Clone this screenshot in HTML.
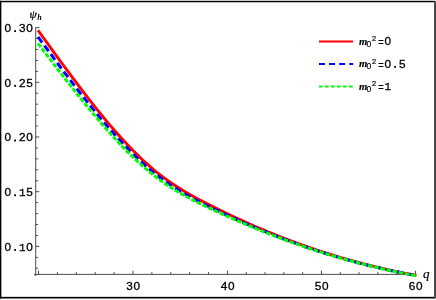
<!DOCTYPE html>
<html><head><meta charset="utf-8">
<style>
html,body{margin:0;padding:0;background:#fff;}
body{width:436px;height:300px;overflow:hidden;}
svg{display:block;will-change:transform;}
.mono{font-family:"Liberation Sans",sans-serif;font-size:11.8px;fill:#000;stroke:#000;stroke-width:0.3px;}
.mono1{font-family:"Liberation Mono",monospace;font-size:10.9px;fill:#000;stroke:#000;stroke-width:0.3px;}
.ser{font-family:"Liberation Serif",serif;font-style:italic;fill:#000;}
</style></head><body>
<svg width="436" height="300" viewBox="0 0 436 300">
<rect x="0" y="0" width="436" height="300" fill="#fff"/>
<!-- frame -->
<rect x="0" y="0.8" width="1.35" height="297.7" fill="#000"/>
<rect x="0" y="0.8" width="435.2" height="1.45" fill="#000"/>
<rect x="0" y="296.85" width="435.4" height="1.65" fill="#000"/>
<rect x="434.05" y="1.2" width="1.95" height="297" fill="#484848"/>
<!-- axes -->
<g stroke="#4c4c4c" stroke-width="1" fill="none">
<line x1="35.7" y1="27.2" x2="35.7" y2="276"/>
<line x1="34" y1="274.4" x2="415.6" y2="274.4"/>
<line x1="38.50" y1="274.4" x2="38.50" y2="270.70"/>
<line x1="57.40" y1="274.4" x2="57.40" y2="272.10"/>
<line x1="76.30" y1="274.4" x2="76.30" y2="272.10"/>
<line x1="95.20" y1="274.4" x2="95.20" y2="272.10"/>
<line x1="114.10" y1="274.4" x2="114.10" y2="272.10"/>
<line x1="133.00" y1="274.4" x2="133.00" y2="270.70"/>
<line x1="151.89" y1="274.4" x2="151.89" y2="272.10"/>
<line x1="170.78" y1="274.4" x2="170.78" y2="272.10"/>
<line x1="189.67" y1="274.4" x2="189.67" y2="272.10"/>
<line x1="208.56" y1="274.4" x2="208.56" y2="272.10"/>
<line x1="227.45" y1="274.4" x2="227.45" y2="270.70"/>
<line x1="246.25" y1="274.4" x2="246.25" y2="272.10"/>
<line x1="265.05" y1="274.4" x2="265.05" y2="272.10"/>
<line x1="283.85" y1="274.4" x2="283.85" y2="272.10"/>
<line x1="302.65" y1="274.4" x2="302.65" y2="272.10"/>
<line x1="321.45" y1="274.4" x2="321.45" y2="270.70"/>
<line x1="340.25" y1="274.4" x2="340.25" y2="272.10"/>
<line x1="359.05" y1="274.4" x2="359.05" y2="272.10"/>
<line x1="377.85" y1="274.4" x2="377.85" y2="272.10"/>
<line x1="396.65" y1="274.4" x2="396.65" y2="272.10"/>
<line x1="415.45" y1="274.4" x2="415.45" y2="270.70"/>
<line x1="35.7" y1="27.60" x2="39.30" y2="27.60"/>
<line x1="35.7" y1="38.54" x2="38.10" y2="38.54"/>
<line x1="35.7" y1="49.48" x2="38.10" y2="49.48"/>
<line x1="35.7" y1="60.42" x2="38.10" y2="60.42"/>
<line x1="35.7" y1="71.36" x2="38.10" y2="71.36"/>
<line x1="35.7" y1="82.30" x2="39.30" y2="82.30"/>
<line x1="35.7" y1="93.24" x2="38.10" y2="93.24"/>
<line x1="35.7" y1="104.18" x2="38.10" y2="104.18"/>
<line x1="35.7" y1="115.12" x2="38.10" y2="115.12"/>
<line x1="35.7" y1="126.06" x2="38.10" y2="126.06"/>
<line x1="35.7" y1="137.00" x2="39.30" y2="137.00"/>
<line x1="35.7" y1="147.94" x2="38.10" y2="147.94"/>
<line x1="35.7" y1="158.88" x2="38.10" y2="158.88"/>
<line x1="35.7" y1="169.82" x2="38.10" y2="169.82"/>
<line x1="35.7" y1="180.76" x2="38.10" y2="180.76"/>
<line x1="35.7" y1="191.70" x2="39.30" y2="191.70"/>
<line x1="35.7" y1="202.64" x2="38.10" y2="202.64"/>
<line x1="35.7" y1="213.58" x2="38.10" y2="213.58"/>
<line x1="35.7" y1="224.52" x2="38.10" y2="224.52"/>
<line x1="35.7" y1="235.46" x2="38.10" y2="235.46"/>
<line x1="35.7" y1="246.40" x2="39.30" y2="246.40"/>
<line x1="35.7" y1="257.34" x2="38.10" y2="257.34"/>
<line x1="35.7" y1="268.28" x2="38.10" y2="268.28"/>
</g>
<!-- curves -->
<g fill="none" stroke-linecap="butt" stroke-linejoin="round">
<path d="M38.0,30.26 L42.0,35.80 L46.0,41.33 L50.0,46.85 L53.9,52.35 L57.9,57.83 L61.9,63.27 L65.9,68.69 L69.9,74.07 L73.9,79.41 L77.8,84.70 L81.8,89.95 L85.8,95.13 L89.8,100.26 L93.8,105.32 L97.8,110.31 L101.7,115.23 L105.7,120.06 L109.7,124.81 L113.7,129.46 L117.7,134.02 L121.7,138.47 L125.7,142.80 L129.6,147.02 L133.6,151.12 L137.6,155.08 L141.6,158.91 L145.6,162.60 L149.6,166.14 L153.5,169.54 L157.5,172.80 L161.5,175.91 L165.5,178.89 L169.5,181.73 L173.5,184.45 L177.4,187.05 L181.4,189.54 L185.4,191.94 L189.4,194.25 L193.4,196.49 L197.4,198.66 L201.4,200.79 L205.3,202.86 L209.3,204.89 L213.3,206.89 L217.3,208.86 L221.3,210.80 L225.3,212.72 L229.2,214.61 L233.2,216.49 L237.2,218.33 L241.2,220.16 L245.2,221.95 L249.2,223.73 L253.1,225.48 L257.1,227.21 L261.1,228.91 L265.1,230.58 L269.1,232.23 L273.1,233.86 L277.1,235.45 L281.0,237.03 L285.0,238.58 L289.0,240.10 L293.0,241.59 L297.0,243.06 L301.0,244.50 L304.9,245.92 L308.9,247.31 L312.9,248.68 L316.9,250.02 L320.9,251.33 L324.9,252.61 L328.8,253.88 L332.8,255.11 L336.8,256.32 L340.8,257.50 L344.8,258.66 L348.8,259.80 L352.8,260.90 L356.7,261.99 L360.7,263.05 L364.7,264.08 L368.7,265.09 L372.7,266.08 L376.7,267.04 L380.6,267.98 L384.6,268.90 L388.6,269.80 L392.6,270.67 L396.6,271.52 L400.6,272.35 L404.5,273.16 L408.5,273.95 L412.5,274.72 L416.5,275.47" stroke="#ff0000" stroke-width="2.85"/>
<path d="M38.0,36.86 L42.0,42.27 L46.0,47.67 L50.0,53.05 L53.9,58.42 L57.9,63.76 L61.9,69.07 L65.9,74.36 L69.9,79.60 L73.9,84.81 L77.8,89.98 L81.8,95.09 L85.8,100.15 L89.8,105.15 L93.8,110.08 L97.8,114.95 L101.7,119.74 L105.7,124.45 L109.7,129.07 L113.7,133.61 L117.7,138.04 L121.7,142.37 L125.7,146.59 L129.6,150.70 L133.6,154.68 L137.6,158.53 L141.6,162.25 L145.6,165.84 L149.6,169.28 L153.5,172.57 L157.5,175.73 L161.5,178.75 L165.5,181.63 L169.5,184.38 L173.5,187.01 L177.4,189.52 L181.4,191.93 L185.4,194.25 L189.4,196.48 L193.4,198.64 L197.4,200.74 L201.4,202.79 L205.3,204.80 L209.3,206.76 L213.3,208.70 L217.3,210.60 L221.3,212.48 L225.3,214.34 L229.2,216.18 L233.2,217.99 L237.2,219.78 L241.2,221.55 L245.2,223.30 L249.2,225.03 L253.1,226.73 L257.1,228.41 L261.1,230.07 L265.1,231.70 L269.1,233.31 L273.1,234.89 L277.1,236.46 L281.0,237.99 L285.0,239.50 L289.0,240.99 L293.0,242.45 L297.0,243.89 L301.0,245.30 L304.9,246.69 L308.9,248.05 L312.9,249.39 L316.9,250.70 L320.9,251.98 L324.9,253.24 L328.8,254.48 L332.8,255.69 L336.8,256.88 L340.8,258.04 L344.8,259.17 L348.8,260.29 L352.8,261.37 L356.7,262.44 L360.7,263.48 L364.7,264.49 L368.7,265.48 L372.7,266.45 L376.7,267.39 L380.6,268.31 L384.6,269.21 L388.6,270.09 L392.6,270.94 L396.6,271.78 L400.6,272.59 L404.5,273.38 L408.5,274.15 L412.5,274.90 L416.5,275.63" stroke="#0000ff" stroke-width="3" stroke-dasharray="7 3.8"/>
<path d="M38.0,43.49 L42.0,48.71 L46.0,53.92 L50.0,59.12 L53.9,64.31 L57.9,69.48 L61.9,74.63 L65.9,79.74 L69.9,84.83 L73.9,89.88 L77.8,94.89 L81.8,99.85 L85.8,104.76 L89.8,109.62 L93.8,114.41 L97.8,119.14 L101.7,123.80 L105.7,128.38 L109.7,132.87 L113.7,137.28 L117.7,141.59 L121.7,145.80 L125.7,149.91 L129.6,153.90 L133.6,157.77 L137.6,161.52 L141.6,165.13 L145.6,168.60 L149.6,171.94 L153.5,175.14 L157.5,178.20 L161.5,181.12 L165.5,183.91 L169.5,186.57 L173.5,189.10 L177.4,191.53 L181.4,193.85 L185.4,196.08 L189.4,198.23 L193.4,200.31 L197.4,202.34 L201.4,204.31 L205.3,206.24 L209.3,208.13 L213.3,210.00 L217.3,211.84 L221.3,213.65 L225.3,215.45 L229.2,217.22 L233.2,218.98 L237.2,220.71 L241.2,222.43 L245.2,224.13 L249.2,225.80 L253.1,227.46 L257.1,229.09 L261.1,230.70 L265.1,232.29 L269.1,233.86 L273.1,235.41 L277.1,236.93 L281.0,238.43 L285.0,239.91 L289.0,241.37 L293.0,242.80 L297.0,244.21 L301.0,245.59 L304.9,246.96 L308.9,248.30 L312.9,249.61 L316.9,250.91 L320.9,252.17 L324.9,253.42 L328.8,254.64 L332.8,255.84 L336.8,257.01 L340.8,258.17 L344.8,259.29 L348.8,260.40 L352.8,261.48 L356.7,262.54 L360.7,263.58 L364.7,264.59 L368.7,265.58 L372.7,266.55 L376.7,267.50 L380.6,268.43 L384.6,269.33 L388.6,270.21 L392.6,271.08 L396.6,271.92 L400.6,272.74 L404.5,273.54 L408.5,274.32 L412.5,275.09 L416.5,275.83" stroke="#00ff00" stroke-width="3" stroke-dasharray="4.6 1.7"/>
</g>
<g>
<text class="mono" x="7.90" y="32.05" text-anchor="middle">0</text><rect x="14.20" y="30.20" width="1.8" height="1.85" fill="#000"/><text class="mono" x="22.30" y="32.05" text-anchor="middle">3</text><text class="mono" x="29.50" y="32.05" text-anchor="middle">0</text>
<text class="mono" x="7.90" y="86.75" text-anchor="middle">0</text><rect x="14.20" y="84.90" width="1.8" height="1.85" fill="#000"/><text class="mono" x="22.30" y="86.75" text-anchor="middle">2</text><text class="mono" x="29.50" y="86.75" text-anchor="middle">5</text>
<text class="mono" x="7.90" y="141.45" text-anchor="middle">0</text><rect x="14.20" y="139.60" width="1.8" height="1.85" fill="#000"/><text class="mono" x="22.30" y="141.45" text-anchor="middle">2</text><text class="mono" x="29.50" y="141.45" text-anchor="middle">0</text>
<text class="mono" x="7.90" y="196.15" text-anchor="middle">0</text><rect x="14.20" y="194.30" width="1.8" height="1.85" fill="#000"/><text class="mono1" x="22.30" y="196.15" text-anchor="middle">1</text><text class="mono" x="29.50" y="196.15" text-anchor="middle">5</text>
<text class="mono" x="7.90" y="250.85" text-anchor="middle">0</text><rect x="14.20" y="249.00" width="1.8" height="1.85" fill="#000"/><text class="mono1" x="22.30" y="250.85" text-anchor="middle">1</text><text class="mono" x="29.50" y="250.85" text-anchor="middle">0</text>
<text class="mono" x="129.55" y="290.10" text-anchor="middle">3</text><text class="mono" x="136.75" y="290.10" text-anchor="middle">0</text>
<text class="mono" x="224.00" y="290.10" text-anchor="middle">4</text><text class="mono" x="231.20" y="290.10" text-anchor="middle">0</text>
<text class="mono" x="318.00" y="290.10" text-anchor="middle">5</text><text class="mono" x="325.20" y="290.10" text-anchor="middle">0</text>
<text class="mono" x="412.00" y="290.10" text-anchor="middle">6</text><text class="mono" x="419.20" y="290.10" text-anchor="middle">0</text>
</g>
<!-- axis labels -->
<text class="ser" transform="translate(29.4,18.0) scale(1.08,1)" font-size="10.8" stroke="#000" stroke-width="0.25">ψ</text>
<text class="ser" x="37.2" y="20.4" font-size="8.1" font-weight="bold">h</text>
<text class="ser" x="423.0" y="278.4" font-size="13" stroke="#000" stroke-width="0.2">q</text>
<!-- legend -->
<g fill="none" stroke-width="2">
<line x1="319" y1="41.6" x2="353.2" y2="41.6" stroke="#ff0000"/>
<line x1="319" y1="64" x2="353.2" y2="64" stroke="#0000ff" stroke-dasharray="6 4.1"/>
<line x1="319" y1="86.6" x2="353.2" y2="86.6" stroke="#00ff00" stroke-dasharray="3.7 2.3"/>
</g>
<g transform="translate(0,0)"><text class="ser" transform="translate(359.0,44.9) scale(0.95,1)" font-size="11.3" font-weight="bold" stroke="#000" stroke-width="0.12">m</text><text class="mono" x="368.8" y="46.6" text-anchor="middle" style="font-size:8.5px;stroke-width:0.15px">0</text><text class="mono" x="374.1" y="41.2" text-anchor="middle" style="font-size:7.4px;stroke-width:0.2px">2</text><text class="mono" transform="translate(381.0,46.0) scale(0.78,1)" text-anchor="middle">=</text><text class="mono" x="387.80" y="45.30" text-anchor="middle">0</text></g>
<g transform="translate(0,22.5)"><text class="ser" transform="translate(359.0,44.9) scale(0.95,1)" font-size="11.3" font-weight="bold" stroke="#000" stroke-width="0.12">m</text><text class="mono" x="368.8" y="46.6" text-anchor="middle" style="font-size:8.5px;stroke-width:0.15px">0</text><text class="mono" x="374.1" y="41.2" text-anchor="middle" style="font-size:7.4px;stroke-width:0.2px">2</text><text class="mono" transform="translate(381.0,46.0) scale(0.78,1)" text-anchor="middle">=</text><text class="mono" x="387.80" y="45.30" text-anchor="middle">0</text><rect x="394.20" y="43.45" width="1.8" height="1.85" fill="#000"/><text class="mono" x="402.40" y="45.30" text-anchor="middle">5</text></g>
<g transform="translate(0,45)"><text class="ser" transform="translate(359.0,44.9) scale(0.95,1)" font-size="11.3" font-weight="bold" stroke="#000" stroke-width="0.12">m</text><text class="mono" x="368.8" y="46.6" text-anchor="middle" style="font-size:8.5px;stroke-width:0.15px">0</text><text class="mono" x="374.1" y="41.2" text-anchor="middle" style="font-size:7.4px;stroke-width:0.2px">2</text><text class="mono" transform="translate(381.0,46.0) scale(0.78,1)" text-anchor="middle">=</text><text class="mono1" x="387.80" y="45.30" text-anchor="middle">1</text></g>

</svg>
</body></html>
